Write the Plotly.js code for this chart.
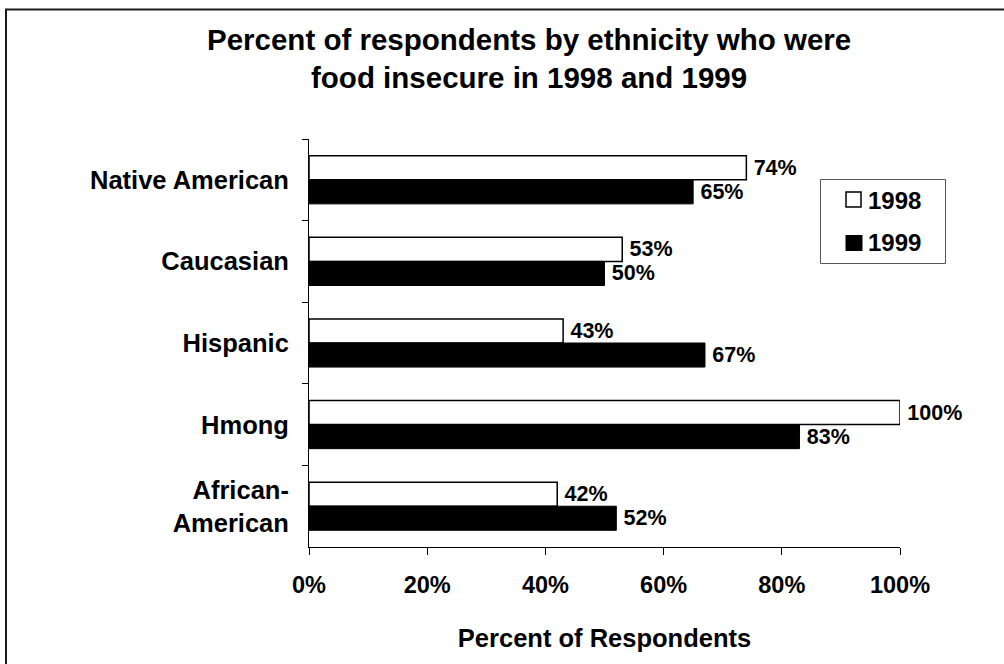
<!DOCTYPE html>
<html>
<head>
<meta charset="utf-8">
<script src="https://cdn.plot.ly/plotly-3.0.1.min.js"></script>
<style>html,body{margin:0;padding:0;background:#fff;}#chart{width:1004px;height:664px;}</style>
</head>
<body>
<div id="chart"></div>
<script>
// ---- data ----
const categories = ['Native American', 'Caucasian', 'Hispanic', 'Hmong', 'African-<br>American'];
const values1998 = [74, 53, 43, 100, 42];
const values1999 = [65, 50, 67, 83, 52];
const seriesNames = ['1998', '1999'];
const xTickValues = [0, 20, 40, 60, 80, 100];
const chartTitle = 'Percent of respondents by ethnicity who were<br>food insecure in 1998 and 1999';
const xAxisTitle = 'Percent of Respondents';

const FONT = 'Liberation Sans, Arial, Helvetica, sans-serif';

const traces = [
  {
    type: 'bar', orientation: 'h', name: seriesNames[0],
    y: categories, x: values1998,
    marker: {color: '#ffffff', line: {color: '#000000', width: 1.5}},
    text: values1998.map(v => '\u2009' + v + '%'),
    textposition: 'outside', constraintext: 'none', cliponaxis: false,
    textfont: {family: FONT, size: 21.5, color: '#000', weight: 'bold'},
    hoverinfo: 'none'
  },
  {
    type: 'bar', orientation: 'h', name: seriesNames[1],
    y: categories, x: values1999,
    marker: {color: '#000000', line: {color: '#000000', width: 1}},
    text: values1999.map(v => '\u2009' + v + '%'),
    textposition: 'outside', constraintext: 'none', cliponaxis: false,
    textfont: {family: FONT, size: 21.5, color: '#000', weight: 'bold'},
    hoverinfo: 'none'
  }
];

// plot area in px: x 309..900, y 139..547
const px = x => (x - 309) / 591;
const py = y => (547 - y) / 408;

const shapes = [
  // outer chart border
  {type: 'rect', xref: 'paper', yref: 'paper', x0: px(6), x1: px(1012), y0: py(672), y1: py(9.5),
   line: {color: '#1a1a1a', width: 2}, fillcolor: 'rgba(0,0,0,0)'},
  // legend box
  {type: 'rect', xref: 'paper', yref: 'paper', x0: px(820.5), x1: px(945.5), y0: py(263.5), y1: py(179.5),
   line: {color: '#555555', width: 1}, fillcolor: '#ffffff'},
  // legend swatches
  {type: 'rect', xref: 'paper', yref: 'paper', x0: px(846), x1: px(861), y0: py(207), y1: py(192),
   line: {color: '#000', width: 1.5}, fillcolor: '#ffffff'},
  {type: 'rect', xref: 'paper', yref: 'paper', x0: px(845.5), x1: px(862.5), y0: py(251), y1: py(235),
   line: {color: '#000', width: 0}, fillcolor: '#000000'}
];

const annotations = [
  {xref: 'paper', yref: 'paper', x: px(866), y: py(200.5), xanchor: 'left', yanchor: 'middle',
   text: seriesNames[0], showarrow: false, font: {family: FONT, size: 24, color: '#000', weight: 'bold'}},
  {xref: 'paper', yref: 'paper', x: px(866), y: py(242.5), xanchor: 'left', yanchor: 'middle',
   text: seriesNames[1], showarrow: false, font: {family: FONT, size: 24, color: '#000', weight: 'bold'}}
];

const layout = {
  width: 1004, height: 664,
  paper_bgcolor: '#ffffff', plot_bgcolor: '#ffffff',
  margin: {l: 309, r: 104, t: 139, b: 117, pad: 0},
  showlegend: false,
  barmode: 'group', bargap: 0.41, bargroupgap: 0,
  font: {family: FONT, color: '#000'},
  title: {
    text: chartTitle,
    xref: 'container', yref: 'container', x: 0.527, xanchor: 'center',
    y: 1 - 50 / 664, yanchor: 'middle',
    font: {family: FONT, size: 29.5, color: '#000', weight: 'bold'}
  },
  xaxis: {
    range: [0, 100], tickvals: xTickValues, ticktext: xTickValues.map(v => v + '%'),
    showgrid: false, zeroline: false,
    showline: true, linecolor: '#000', linewidth: 1,
    ticks: 'outside', ticklen: 7, tickcolor: '#000', tickwidth: 1,
    ticklabelstandoff: 10,
    tickfont: {family: FONT, size: 23.5, color: '#000', weight: 'bold'},
    title: {text: xAxisTitle, standoff: 31, font: {family: FONT, size: 25.5, color: '#000', weight: 'bold'}},
    automargin: false, fixedrange: true
  },
  yaxis: {
    type: 'category', autorange: 'reversed',
    showgrid: false, zeroline: false,
    showline: true, linecolor: '#000', linewidth: 1,
    ticks: 'outside', tickson: 'boundaries', ticklen: 6, tickcolor: '#000', tickwidth: 1,
    ticklabelstandoff: 14,
    tickfont: {family: FONT, size: 25.5, color: '#000', weight: 'bold'},
    automargin: false, fixedrange: true
  },
  shapes: shapes,
  annotations: annotations
};

Plotly.newPlot('chart', traces, layout, {staticPlot: true, displayModeBar: false});
</script>
</body>
</html>
